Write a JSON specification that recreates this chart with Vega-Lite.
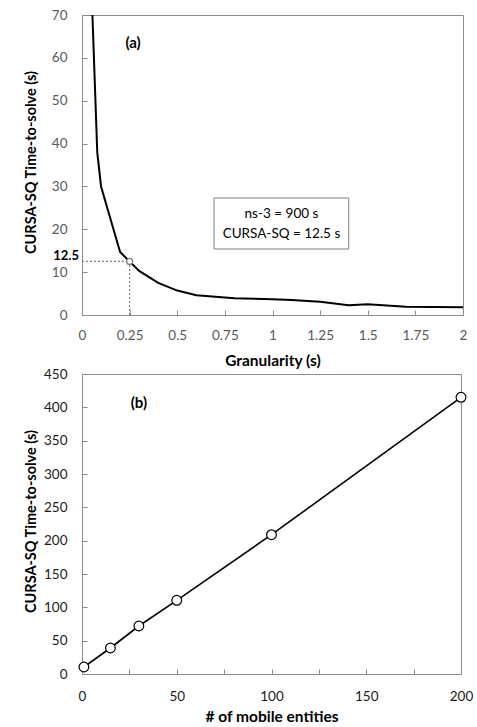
{
  "$schema": "https://vega.github.io/schema/vega-lite/v6.json",
  "padding": {"left": 22, "top": 7, "right": 10, "bottom": 4},
  "spacing": 59,
  "bounds": "flush",
  "config": {
    "font": "Lato",
    "view": {"stroke": "#8c8c8c", "strokeWidth": 1},
    "axis": {
      "grid": false,
      "domainColor": "#8c8c8c",
      "tickColor": "#8c8c8c",
      "tickSize": -5,
      "labelFontSize": 13.5,
      "labelColor": "#595959",
      "labelOverlap": false,
      "labelFlush": false,
      "titleFontSize": 15,
      "titleFontWeight": "bold",
      "titleColor": "black"
    },
    "axisY": {"labelPadding": 20, "titleX": -51, "titleY": 147, "titleBaseline": "middle", "titleAngle": -90, "titleAlign": "center", "titleFontSize": 14.5},
    "axisX": {"labelPadding": 18, "titlePadding": 9, "titleFontSize": 15.5}
  },
  "vconcat": [
    {
      "width": 381,
      "height": 300,
      "encoding": {
        "x": {"field": "x", "type": "quantitative", "scale": {"domain": [0, 2], "nice": false},
          "axis": {"title": "Granularity (s)", "values": [0, 0.25, 0.5, 0.75, 1, 1.25, 1.5, 1.75, 2], "labelExpr": "format(datum.value, '~g')", "titlePadding": 12}},
        "y": {"field": "y", "type": "quantitative", "scale": {"domain": [0, 70], "nice": false},
          "axis": {"title": "CURSA-SQ Time-to-solve (s)", "values": [0, 10, 20, 30, 40, 50, 60, 70]}}
      },
      "layer": [
        {
          "data": {"values": [
            {"x": 0, "y": 12.5, "x2": 0.25, "y2": 12.5},
            {"x": 0.25, "y": 0, "x2": 0.25, "y2": 12.5}
          ]},
          "mark": {"type": "rule", "color": "#7f7f7f", "strokeDash": [2, 2], "strokeWidth": 1.2},
          "encoding": {
            "x2": {"field": "x2"},
            "y2": {"field": "y2"}
          }
        },
        {
          "data": {"values": [
            {"x": 0.05, "y": 76},
            {"x": 0.08, "y": 38},
            {"x": 0.1, "y": 30},
            {"x": 0.2, "y": 14.7},
            {"x": 0.25, "y": 12.5},
            {"x": 0.3, "y": 10.3},
            {"x": 0.4, "y": 7.5},
            {"x": 0.5, "y": 5.7},
            {"x": 0.6, "y": 4.6},
            {"x": 0.8, "y": 3.9},
            {"x": 1.0, "y": 3.7},
            {"x": 1.1, "y": 3.5},
            {"x": 1.25, "y": 3.1},
            {"x": 1.4, "y": 2.3},
            {"x": 1.5, "y": 2.5},
            {"x": 1.7, "y": 1.95},
            {"x": 2.0, "y": 1.8}
          ]},
          "mark": {"type": "line", "color": "black", "strokeWidth": 2, "clip": true},
          "encoding": {}
        },
        {
          "data": {"values": [{"x": 0.25, "y": 12.5}]},
          "mark": {"type": "point", "shape": "circle", "filled": true, "fill": "white", "stroke": "#7f7f7f", "strokeWidth": 1.3, "size": 36, "opacity": 1}
        },
        {
          "data": {"values": [{"x": 0.693, "x2": 1.4, "y": 27.3, "y2": 15.4}]},
          "mark": {"type": "rect", "fill": "white", "stroke": "#7f7f7f", "strokeWidth": 1},
          "encoding": {
            "x2": {"field": "x2"},
            "y2": {"field": "y2"}
          }
        },
        {
          "data": {"values": [
            {"x": 1.047, "y": 23.6, "label": "ns-3 = 900 s"},
            {"x": 1.047, "y": 18.9, "label": "CURSA-SQ = 12.5 s"}
          ]},
          "mark": {"type": "text", "fontSize": 13.5, "color": "black", "align": "center", "baseline": "middle"},
          "encoding": {"text": {"field": "label"}}
        },
        {
          "data": {"values": [{"x": 0.268, "y": 63.5, "label": "(a)"}]},
          "mark": {"type": "text", "fontSize": 15, "fontWeight": "bold", "color": "black", "align": "center", "baseline": "middle"},
          "encoding": {"text": {"field": "label"}}
        },
        {
          "data": {"values": [{"x": 0, "y": 12.5, "label": "12.5"}]},
          "mark": {"type": "text", "fontSize": 13, "fontWeight": "bold", "color": "black", "align": "right", "baseline": "bottom", "dx": -3, "dy": 2},
          "encoding": {"text": {"field": "label"}}
        }
      ]
    },
    {
      "width": 379,
      "height": 300,
      "encoding": {
        "x": {"field": "x", "type": "quantitative", "scale": {"domain": [0, 200], "nice": false},
          "axis": {"title": "# of mobile entities", "values": [0, 25, 50, 75, 100, 125, 150, 175, 200], "labelExpr": "datum.value % 50 == 0 ? datum.label : ''", "labelColor": "#1a1a1a", "labelPadding": 20, "titlePadding": 7}},
        "y": {"field": "y", "type": "quantitative", "scale": {"domain": [0, 450], "nice": false},
          "axis": {"title": "CURSA-SQ Time-to-solve (s)", "values": [0, 50, 100, 150, 200, 250, 300, 350, 400, 450], "labelColor": "#1a1a1a"}}
      },
      "layer": [
        {
          "data": {"name": "entities", "values": [
            {"x": 1, "y": 10.5},
            {"x": 15, "y": 39},
            {"x": 30, "y": 72},
            {"x": 50, "y": 110.5},
            {"x": 100, "y": 209},
            {"x": 200, "y": 415}
          ]},
          "layer": [
            {"mark": {"type": "line", "color": "black", "strokeWidth": 1.6}, "encoding": {}},
            {"mark": {"type": "point", "shape": "circle", "filled": true, "fill": "white", "stroke": "black", "strokeWidth": 1.2, "size": 95, "opacity": 1}}
          ]
        },
        {
          "data": {"values": [{"x": 30, "y": 407, "label": "(b)"}]},
          "mark": {"type": "text", "fontSize": 15, "fontWeight": "bold", "color": "black", "align": "center", "baseline": "middle"},
          "encoding": {"text": {"field": "label"}}
        }
      ]
    }
  ]
}
